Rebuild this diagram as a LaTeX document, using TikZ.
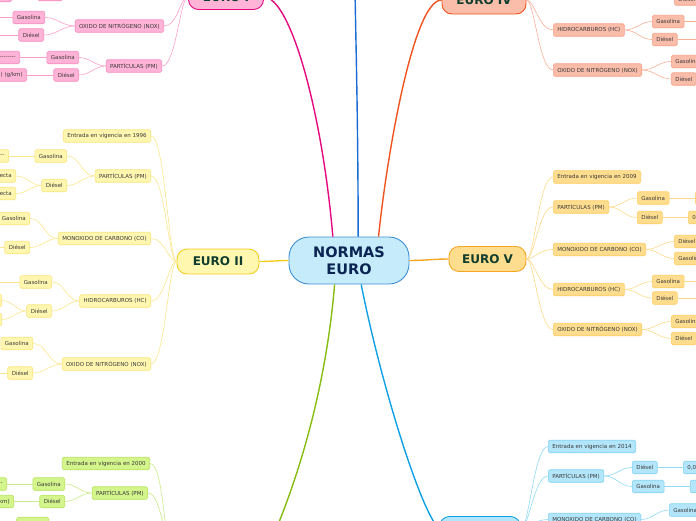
\documentclass[tikz,border=0pt]{standalone}
\usepackage{fontspec}
\setmainfont{DejaVu Sans}
\usetikzlibrary{positioning}

% --- colores ---
\definecolor{centrofill}{HTML}{C6EBFA}
\definecolor{centroline}{HTML}{3C8FD3}
\definecolor{centrotext}{HTML}{0B2552}
\definecolor{tematext}{HTML}{0E3D2E}
\definecolor{hojatext}{HTML}{3A3A3A}
\definecolor{azulmain}{HTML}{1A6BD5}
\definecolor{rosafill}{HTML}{FFB3D6}
\definecolor{rosaline}{HTML}{F58CBF}
\definecolor{rosamain}{HTML}{E5087E}
\definecolor{rosarama}{HTML}{F9A0CA}
\definecolor{salmonfill}{HTML}{F9BDA9}
\definecolor{salmonline}{HTML}{F6A287}
\definecolor{salmonmain}{HTML}{F0531F}
\definecolor{salmonrama}{HTML}{F7AF96}
\definecolor{amarillofill}{HTML}{FFF6B0}
\definecolor{amarilloline}{HTML}{FBE47A}
\definecolor{amarillomain}{HTML}{F4CD1F}
\definecolor{amarillorama}{HTML}{FBE68C}
\definecolor{naranjafill}{HTML}{FFDD8E}
\definecolor{naranjaline}{HTML}{FFCB60}
\definecolor{naranjamain}{HTML}{F7A623}
\definecolor{naranjarama}{HTML}{FFD98A}
\definecolor{verdefill}{HTML}{D3F58B}
\definecolor{verdeline}{HTML}{B7E25D}
\definecolor{verdemain}{HTML}{86BD10}
\definecolor{verderama}{HTML}{C7EB8A}
\definecolor{celestefill}{HTML}{B3E6FA}
\definecolor{celesteline}{HTML}{7ED1F4}
\definecolor{celestemain}{HTML}{0FA0E6}
\definecolor{celesterama}{HTML}{90D9F6}

\newcommand{\guiones}{-\kern0pt-\kern0pt-\kern0pt-\kern0pt-\kern0pt-\kern0pt-\kern0pt-\kern0pt-\kern0pt-\kern0pt-\kern0pt-\kern0pt-}

\begin{document}
\begin{tikzpicture}[x=1pt,y=-1pt,
    centro/.style={draw=centroline, fill=centrofill, line width=0.9pt, rounded corners=20pt,
        minimum width=120pt, minimum height=47pt, align=center, text=centrotext,
        font=\fontsize{14.5}{17.5}\selectfont\bfseries},
    tema/.style={rounded corners=10pt, line width=0.9pt, minimum height=25pt, text=tematext,
        font=\fontsize{12}{14}\selectfont\bfseries},
    hoja/.style={rounded corners=1.5pt, line width=0.6pt, minimum height=12.5pt,
        inner xsep=4pt, inner ysep=0pt, text=hojatext, font=\fontsize{5.5}{6.5}\selectfont},
    lcorte/.style={text width=60pt, align=right},
    rcorte/.style={text width=60pt, align=left},
    rosa/.style={hoja, fill=rosafill, draw=rosaline},
    salmon/.style={hoja, fill=salmonfill, draw=salmonline},
    amarillo/.style={hoja, fill=amarillofill, draw=amarilloline},
    naranja/.style={hoja, fill=naranjafill, draw=naranjaline},
    verde/.style={hoja, fill=verdefill, draw=verdeline},
    celeste/.style={hoja, fill=celestefill, draw=celesteline},
    principal/.style={line width=1.4pt},
    rama/.style={line width=0.6pt},
    lrama/.style={out=180, in=0, out distance=8pt, in distance=14pt},
    rrama/.style={out=0, in=180, out distance=8pt, in distance=14pt},
    lsub/.style={out=180, in=0},
    rsub/.style={out=0, in=180}]

    \useasboundingbox (0,0) rectangle (696,520);
    \clip (0,0) rectangle (696,520);

    % === BORDES ===
    \coordinate (bordei) at (-10,0);
    \coordinate (borded) at (710,0);
    \coordinate (arriba) at (355,-10);
    \coordinate (e3punta) at (268,548);
    \coordinate (e3raiz) at (172,548);

    % === CENTRO ===
    \node[centro] (normas) at (349,260.5) {NORMAS\\EURO};

    % === EURO I ===
    \node[tema, fill=rosafill, draw=rosamain, minimum width=75pt] (euro1) at (226,-3) {EURO I};
    \node[rosa, anchor=east] (e1nox) at (164,26) {OXIDO DE NITRÓGENO (NOX)};
    \node[rosa, anchor=east] (e1noxgas) at (45,17.5) {Gasolina};
    \node[rosa, anchor=east] (e1noxdie) at (44,35) {Diésel};
    \node[rosa, anchor=east] (e1pm) at (162,66) {PARTÍCULAS (PM)};
    \node[rosa, anchor=east] (e1pmgas) at (79,57.5) {Gasolina};
    \node[rosa, anchor=east] (e1pmdie) at (79,75) {Diésel};
    \node[rosa, lcorte, anchor=east] (e1pmgasval) at (20,57.5) {\guiones};
    \node[rosa, lcorte, anchor=east] (e1pmdieval) at (27,75) {) (g/km)};
    \node[rosa, minimum width=30pt, anchor=east] (e1cut1) at (12,-4.5) {};
    \node[rosa, minimum width=25pt, anchor=east] (e1cut2) at (63,-5.5) {};

    \draw[rosamain, principal] (normas.124) .. controls (322,110) and (290,-3) .. (euro1.east);
    \draw[rosarama, rama, lrama] (euro1.west) to (e1nox.east);
    \draw[rosarama, rama, lrama] (euro1.west) to (e1pm.east);
    \draw[rosarama, rama, lsub] (e1nox.west) to (e1noxgas.east);
    \draw[rosarama, rama, lsub] (e1nox.west) to (e1noxdie.east);
    \draw[rosarama, rama, lsub] (e1pm.west) to (e1pmgas.east);
    \draw[rosarama, rama, lsub] (e1pm.west) to (e1pmdie.east);
    \draw[rosarama, rama] (e1noxgas.west) -- (e1noxgas.west -| bordei);
    \draw[rosarama, rama] (e1noxdie.west) -- (e1noxdie.west -| bordei);
    \draw[rosarama, rama] (e1pmgas.west) -- (e1pmgasval.east);
    \draw[rosarama, rama] (e1pmdie.west) -- (e1pmdieval.east);

    % === RAMA AZUL (ARRIBA) ===
    \draw[azulmain, principal] (normas.69) .. controls (358,120) and (356,50) .. (arriba);

    % === EURO IV ===
    \node[tema, fill=salmonfill, draw=salmonmain, minimum width=84pt, minimum height=28pt] (euro4) at (484,0) {EURO IV};
    \node[salmon, anchor=west] (e4hc) at (553,30) {HIDROCARBUROS (HC)};
    \node[salmon, anchor=west] (e4hcgas) at (652,21.5) {Gasolina};
    \node[salmon, anchor=west] (e4hcdie) at (652,39.5) {Diésel};
    \node[salmon, anchor=west] (e4nox) at (553,70) {OXIDO DE NITRÓGENO (NOX)};
    \node[salmon, anchor=west] (e4noxgas) at (671,61.5) {Gasolina};
    \node[salmon, anchor=west] (e4noxdie) at (671,79) {Diésel};
    \node[salmon, anchor=west] (e4cut) at (674,-1) {Diésel};

    \draw[salmonmain, principal] (normas.39) .. controls (385,170) and (412,0) .. (euro4.west);
    \draw[salmonrama, rama, rrama] (euro4.east) to (e4hc.west);
    \draw[salmonrama, rama, rrama] (euro4.east) to (e4nox.west);
    \draw[salmonrama, rama, rsub] (e4hc.east) to (e4hcgas.west);
    \draw[salmonrama, rama, rsub] (e4hc.east) to (e4hcdie.west);
    \draw[salmonrama, rama, rsub] (e4nox.east) to (e4noxgas.west);
    \draw[salmonrama, rama, rsub] (e4nox.east) to (e4noxdie.west);
    \draw[salmonrama, rama] (e4hcgas.east) -- (e4hcgas.east -| borded);
    \draw[salmonrama, rama] (e4hcdie.east) -- (e4hcdie.east -| borded);

    % === EURO II ===
    \node[tema, fill=amarillofill, draw=amarillomain, minimum width=82pt] (euro2) at (218,261.5) {EURO II};
    \node[amarillo, anchor=east] (e2ent) at (151,136) {Entrada en vigencia en 1996};
    \node[amarillo, anchor=east] (e2pm) at (151,176) {PARTÍCULAS (PM)};
    \node[amarillo, anchor=east] (e2pmgas) at (67,156) {Gasolina};
    \node[amarillo, anchor=east] (e2pmdie) at (67,185.5) {Diésel};
    \node[amarillo, lcorte, anchor=east] (e2pmgasval) at (9,156) {\guiones};
    \node[amarillo, lcorte, anchor=east] (e2pmdie1) at (16,176) {ecta};
    \node[amarillo, lcorte, anchor=east] (e2pmdie2) at (16,193.5) {ecta};
    \node[amarillo, anchor=east] (e2co) at (151,238.5) {MONOXIDO DE CARBONO (CO)};
    \node[amarillo, anchor=east] (e2cogas) at (30,218.5) {Gasolina};
    \node[amarillo, anchor=east] (e2codie) at (30,247.5) {Diésel};
    \node[amarillo, anchor=east] (e2hc) at (151,301) {HIDROCARBUROS (HC)};
    \node[amarillo, anchor=east] (e2hcgas) at (52,282) {Gasolina};
    \node[amarillo, anchor=east] (e2hcdie) at (52,311) {Diésel};
    \node[amarillo, lcorte, anchor=east] (e2hcdie1) at (2,300.5) {};
    \node[amarillo, lcorte, anchor=east] (e2hcdie2) at (2,319.5) {};
    \node[amarillo, anchor=east] (e2nox) at (151,364) {OXIDO DE NITRÓGENO (NOX)};
    \node[amarillo, anchor=east] (e2noxgas) at (33,343.5) {Gasolina};
    \node[amarillo, anchor=east] (e2noxdie) at (33,373) {Diésel};

    \draw[amarillomain, principal] (normas.west) to[out=180, in=0] (euro2.east);
    \foreach \hijo in {e2ent, e2pm, e2co, e2hc, e2nox}
        \draw[amarillorama, rama, lrama] (euro2.west) to (\hijo.east);
    \draw[amarillorama, rama, lsub] (e2pm.west) to (e2pmgas.east);
    \draw[amarillorama, rama, lsub] (e2pm.west) to (e2pmdie.east);
    \draw[amarillorama, rama] (e2pmgas.west) -- (e2pmgasval.east);
    \draw[amarillorama, rama, lsub] (e2pmdie.west) to (e2pmdie1.east);
    \draw[amarillorama, rama, lsub] (e2pmdie.west) to (e2pmdie2.east);
    \draw[amarillorama, rama, lsub] (e2co.west) to (e2cogas.east);
    \draw[amarillorama, rama, lsub] (e2co.west) to (e2codie.east);
    \draw[amarillorama, rama] (e2codie.west) -- (e2codie.west -| bordei);
    \draw[amarillorama, rama, lsub] (e2hc.west) to (e2hcgas.east);
    \draw[amarillorama, rama, lsub] (e2hc.west) to (e2hcdie.east);
    \draw[amarillorama, rama] (e2hcgas.west) -- (e2hcgas.west -| bordei);
    \draw[amarillorama, rama, lsub] (e2hcdie.west) to (e2hcdie1.east);
    \draw[amarillorama, rama, lsub] (e2hcdie.west) to (e2hcdie2.east);
    \draw[amarillorama, rama, lsub] (e2nox.west) to (e2noxgas.east);
    \draw[amarillorama, rama, lsub] (e2nox.west) to (e2noxdie.east);
    \draw[amarillorama, rama] (e2noxdie.west) -- (e2noxdie.west -| bordei);

    % === EURO V ===
    \node[tema, fill=naranjafill, draw=naranjamain, minimum width=77pt] (euro5) at (487.5,259) {EURO V};
    \node[naranja, anchor=west] (e5ent) at (553,177) {Entrada en vigencia en 2009};
    \node[naranja, anchor=west] (e5pm) at (553,207) {PARTÍCULAS (PM)};
    \node[naranja, anchor=west] (e5pmgas) at (637,198) {Gasolina};
    \node[naranja, anchor=west] (e5pmdie) at (637,217.5) {Diésel};
    \node[naranja, rcorte, anchor=west] (e5pmgasval) at (695,198) {};
    \node[naranja, rcorte, anchor=west] (e5pmdieval) at (688,217.5) {0,0};
    \node[naranja, anchor=west] (e5co) at (553,249.5) {MONOXIDO DE CARBONO (CO)};
    \node[naranja, anchor=west] (e5codie) at (674,241.5) {Diésel};
    \node[naranja, anchor=west] (e5cogas) at (674,258.5) {Gasolina};
    \node[naranja, anchor=west] (e5hc) at (553,289.5) {HIDROCARBUROS (HC)};
    \node[naranja, anchor=west] (e5hcgas) at (652,281.5) {Gasolina};
    \node[naranja, anchor=west] (e5hcdie) at (652,298) {Diésel};
    \node[naranja, anchor=west] (e5nox) at (553,329.5) {OXIDO DE NITRÓGENO (NOX)};
    \node[naranja, anchor=west] (e5noxgas) at (671,321.5) {Gasolina};
    \node[naranja, anchor=west] (e5noxdie) at (671,338.5) {Diésel};

    \draw[naranjamain, principal] (normas.east) to[out=0, in=180] (euro5.west);
    \foreach \hijo in {e5ent, e5pm, e5co, e5hc, e5nox}
        \draw[naranjarama, rama, rrama] (euro5.east) to (\hijo.west);
    \draw[naranjarama, rama, rsub] (e5pm.east) to (e5pmgas.west);
    \draw[naranjarama, rama, rsub] (e5pm.east) to (e5pmdie.west);
    \draw[naranjarama, rama] (e5pmgas.east) -- (e5pmgasval.west);
    \draw[naranjarama, rama] (e5pmdie.east) -- (e5pmdieval.west);
    \draw[naranjarama, rama, rsub] (e5co.east) to (e5codie.west);
    \draw[naranjarama, rama, rsub] (e5co.east) to (e5cogas.west);
    \draw[naranjarama, rama, rsub] (e5hc.east) to (e5hcgas.west);
    \draw[naranjarama, rama, rsub] (e5hc.east) to (e5hcdie.west);
    \draw[naranjarama, rama] (e5hcgas.east) -- (e5hcgas.east -| borded);
    \draw[naranjarama, rama] (e5hcdie.east) -- (e5hcdie.east -| borded);
    \draw[naranjarama, rama, rsub] (e5nox.east) to (e5noxgas.west);
    \draw[naranjarama, rama, rsub] (e5nox.east) to (e5noxdie.west);

    % === EURO III (ABAJO IZQUIERDA) ===
    \node[verde, anchor=east] (e3ent) at (150,463.5) {Entrada en vigencia en 2000};
    \node[verde, anchor=east] (e3pm) at (148,493) {PARTÍCULAS (PM)};
    \node[verde, anchor=east] (e3pmgas) at (65,484) {Gasolina};
    \node[verde, anchor=east] (e3pmdie) at (65,501.5) {Diésel};
    \node[verde, lcorte, anchor=east] (e3pmgasval) at (7,484) {\guiones};
    \node[verde, lcorte, anchor=east] (e3pmdieval) at (14,501.5) {km)};
    \node[verde, minimum width=32pt, anchor=east] (e3cut) at (49,523.5) {};

    \draw[verdemain, principal] (normas.239) .. controls (325,400) and (292,495) .. (e3punta);
    \draw[verderama, rama, lrama] (e3raiz) to (e3ent.east);
    \draw[verderama, rama, lrama] (e3raiz) to (e3pm.east);
    \draw[verderama, rama, lsub] (e3pm.west) to (e3pmgas.east);
    \draw[verderama, rama, lsub] (e3pm.west) to (e3pmdie.east);
    \draw[verderama, rama] (e3pmgas.west) -- (e3pmgasval.east);
    \draw[verderama, rama] (e3pmdie.west) -- (e3pmdieval.east);

    % === EURO VI (ABAJO DERECHA) ===
    \node[tema, fill=celestefill, draw=celestemain, minimum width=81pt] (euro6) at (480,529) {EURO VI};
    \node[celeste, anchor=west] (e6ent) at (548,446.5) {Entrada en vigencia en 2014};
    \node[celeste, anchor=west] (e6pm) at (548,476) {PARTÍCULAS (PM)};
    \node[celeste, anchor=west] (e6pmdie) at (632,467.5) {Diésel};
    \node[celeste, anchor=west] (e6pmgas) at (632,486.5) {Gasolina};
    \node[celeste, rcorte, anchor=west] (e6pmdieval) at (683,467.5) {0,0};
    \node[celeste, rcorte, anchor=west] (e6pmgasval) at (690,486.5) {};
    \node[celeste, anchor=west] (e6co) at (548,519.5) {MONOXIDO DE CARBONO (CO)};
    \node[celeste, anchor=west] (e6cogas) at (669,510) {Gasolina};

    \draw[celestemain, principal] (normas.297) .. controls (380,380) and (420,510) .. (euro6.west);
    \foreach \hijo in {e6ent, e6pm, e6co}
        \draw[celesterama, rama, rrama] (euro6.east) to (\hijo.west);
    \draw[celesterama, rama, rsub] (e6pm.east) to (e6pmdie.west);
    \draw[celesterama, rama, rsub] (e6pm.east) to (e6pmgas.west);
    \draw[celesterama, rama] (e6pmdie.east) -- (e6pmdieval.west);
    \draw[celesterama, rama] (e6pmgas.east) -- (e6pmgasval.west);
    \draw[celesterama, rama, rsub] (e6co.east) to (e6cogas.west);

\end{tikzpicture}
\end{document}
